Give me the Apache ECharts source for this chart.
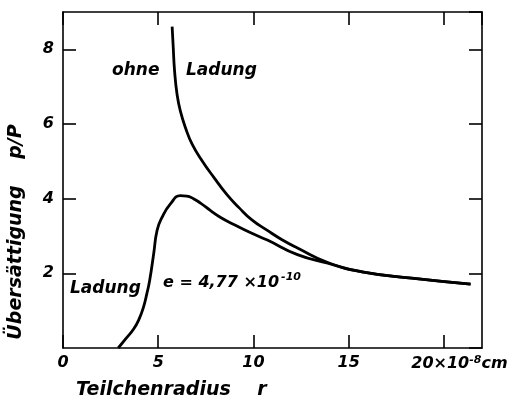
<!DOCTYPE html>
<html>
<head>
<meta charset="utf-8">
<script src="https://cdn.jsdelivr.net/npm/echarts@6/dist/echarts.min.js"></script>
<style>html,body{margin:0;padding:0;background:#fff}#c{width:511px;height:410px}</style>
</head>
<body>
<div id="c"></div>
<script>
// Teilchenradius r (10^-8 cm) and Übersättigung p/P
const ohneR = [5.73, 5.78, 5.86, 5.99, 6.16, 6.43, 6.78, 7.31, 7.92, 8.62, 9.24, 9.9, 10.73, 11.5, 12.31, 13.9, 15.7, 18.3, 21.4];
const ohneP = [8.61, 8.13, 7.41, 6.79, 6.35, 5.9, 5.46, 5.01, 4.57, 4.1, 3.76, 3.44, 3.15, 2.9, 2.68, 2.29, 2.04, 1.87, 1.71];
const ladR = [2.9, 3.3, 3.7, 4.0, 4.23, 4.4, 4.55, 4.76, 4.94, 5.2, 5.64, 6.16, 6.5, 6.85, 7.22, 7.75, 8.3, 8.97, 9.8, 10.73, 12.31, 13.9, 15.7, 18.3, 21.4];
const ladP = [0, 0.25, 0.5, 0.78, 1.1, 1.45, 1.81, 2.52, 3.15, 3.5, 3.86, 4.08, 4.07, 4.0, 3.88, 3.68, 3.49, 3.31, 3.1, 2.89, 2.5, 2.27, 2.04, 1.87, 1.71];
const xTicks = [0, 5, 10, 15, 20];
const yTicks = [2, 4, 6, 8];

const FONT = '"DejaVu Sans", sans-serif';
const pair = (a, b) => a.map((v, i) => [v, b[i]]);
const chart = echarts.init(document.getElementById('c'), null, {renderer: 'canvas'});
const lineCol = '#000';
const baseAxis = {
  type: 'value', splitLine: {show: false},
  axisLine: {show: true, onZero: false, lineStyle: {color: lineCol, width: 1.6}},
  axisTick: {show: true, inside: true, length: 13, lineStyle: {color: lineCol, width: 1.6}}
};
const lab = {color: '#000', fontFamily: FONT, fontWeight: 'bold', fontStyle: 'italic', fontSize: 16};
chart.setOption({
  animation: false,
  grid: {left: 63, right: 29, top: 12, bottom: 62},
  xAxis: [
    Object.assign({}, baseAxis, {
      position: 'bottom', min: 0, max: 22, interval: 5,
      axisLabel: Object.assign({}, lab, {
        margin: 7, showMaxLabel: false,
        formatter: v => v === 20 ? '{p|}{a|20×10}{s|-8}{a|cm}' : (xTicks.indexOf(v) >= 0 ? String(v) : ''),
        rich: {
          p: {width: 31},
          a: Object.assign({}, lab, {lineHeight: 18}),
          s: Object.assign({}, lab, {fontSize: 11, verticalAlign: 'top', lineHeight: 18, padding: [0, 0, 10, 0]})
        }
      })
    }),
    Object.assign({}, baseAxis, {position: 'top', min: 0, max: 22, interval: 5, axisLabel: {show: false}})
  ],
  yAxis: [
    Object.assign({}, baseAxis, {
      position: 'left', min: 0, max: 9, interval: 2,
      axisLabel: Object.assign({}, lab, {margin: 9, showMinLabel: false, showMaxLabel: false,
        formatter: v => yTicks.indexOf(v) >= 0 ? String(v) : ''})
    }),
    Object.assign({}, baseAxis, {position: 'right', min: 0, max: 9, interval: 2, axisLabel: {show: false}})
  ],
  series: [
    {type: 'line', data: pair(ohneR, ohneP), smooth: 0.5, showSymbol: false,
     lineStyle: {color: '#000', width: 2.8}},
    {type: 'line', data: pair(ladR, ladP), smooth: 0.5, showSymbol: false,
     lineStyle: {color: '#000', width: 2.8}}
  ],
  graphic: [
    {type: 'text', left: 112, top: 62, style: {text: 'ohne', fill: '#000', font: 'italic bold 17px ' + FONT}},
    {type: 'text', left: 186, top: 62, style: {text: 'Ladung', fill: '#000', font: 'italic bold 17px ' + FONT}},
    {type: 'text', left: 70, top: 280, style: {text: 'Ladung', fill: '#000', font: 'italic bold 17px ' + FONT}},
    {type: 'text', left: 163, top: 272, style: {
      text: '{a|e = 4,77 ×10}{s|-10}',
      rich: {
        a: {fill: '#000', font: 'italic bold 16px ' + FONT, lineHeight: 22},
        s: {fill: '#000', font: 'italic bold 11px ' + FONT, verticalAlign: 'top', lineHeight: 22, padding: [0, 0, 10, 2]}
      }}},
    {type: 'text', left: 76, top: 381, style: {text: 'Teilchenradius    r', fill: '#000', font: 'italic bold 19px ' + FONT}},
    {type: 'text', x: 16, y: 232, rotation: Math.PI / 2, style: {
      text: 'Übersättigung    p/P', fill: '#000', font: 'italic bold 19px ' + FONT,
      align: 'center', verticalAlign: 'middle'}}
  ]
});
</script>
</body>
</html>
